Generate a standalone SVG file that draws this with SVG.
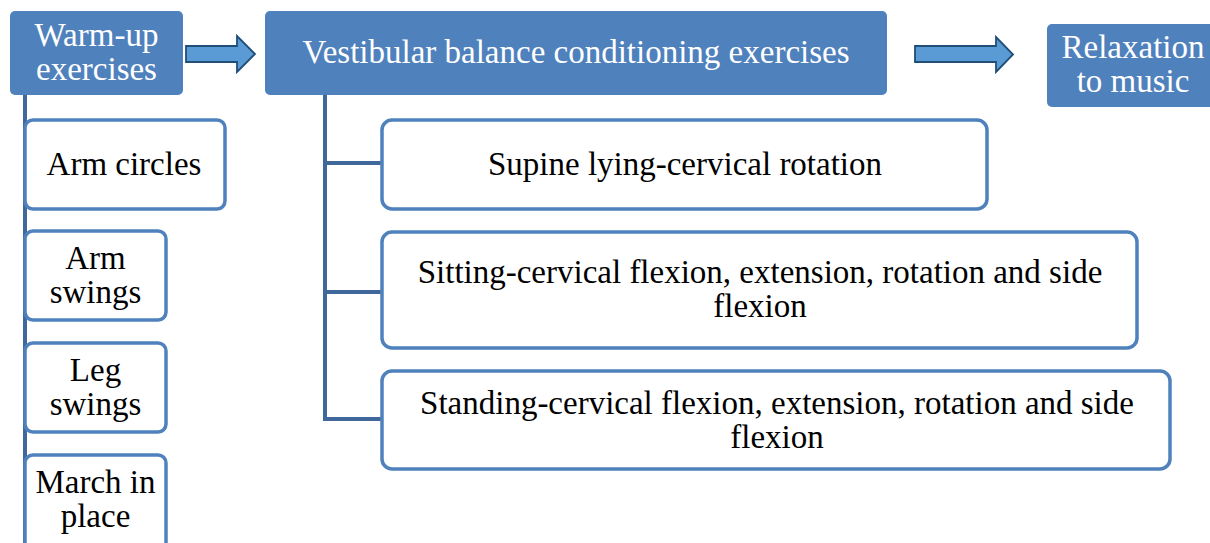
<svg xmlns="http://www.w3.org/2000/svg" width="1210" height="543" viewBox="0 0 1210 543">
<style>
.fill{fill:#4F81BD;}
.box{fill:#fff;stroke:#4F81BD;stroke-width:3.5;}
.t{font-family:"Liberation Serif","Times New Roman",serif;font-size:33px;text-anchor:middle;fill:#000;}
.w{fill:#fff;}
.line{fill:none;stroke:#41689A;stroke-width:4;}
.arr{fill:#5B9BD5;stroke:#1F4E79;stroke-width:1.8;stroke-linejoin:miter;}
</style>
<rect width="1210" height="543" fill="#fff"/>
<g id="connectors">
<path class="line" d="M25 95 V543"/>
<path class="line" d="M325 95 V419 H382 M325 163 H382 M325 292 H382"/>
<path class="arr" d="M186 46 H237 V36 L255 54 L237 72 V62 H186 Z"/>
<path class="arr" d="M915 46 H996 V37 L1013 54.5 L996 72 V62 H915 Z"/>
</g>
<g id="warmup">
<rect class="fill" x="10" y="11" width="173" height="84" rx="5"/>
<text class="t w" x="96.5" y="46">Warm-up</text>
<text class="t w" x="96.5" y="80">exercises</text>
</g>
<g id="vestibular">
<rect class="fill" x="265" y="11" width="622" height="84" rx="5"/>
<text class="t w" x="576" y="63">Vestibular balance conditioning exercises</text>
</g>
<g id="relaxation">
<rect class="fill" x="1047" y="24" width="170" height="83" rx="5"/>
<text class="t w" x="1133" y="58">Relaxation</text>
<text class="t w" x="1133" y="92">to music</text>
</g>
<g id="armcircles">
<rect class="box" x="25" y="120" width="200" height="89" rx="8"/>
<text class="t" x="124" y="175">Arm circles</text>
</g>
<g id="armswings">
<rect class="box" x="25" y="231" width="141" height="89" rx="8"/>
<text class="t" x="95.5" y="269">Arm</text>
<text class="t" x="95.5" y="303">swings</text>
</g>
<g id="legswings">
<rect class="box" x="25" y="343" width="141" height="89" rx="8"/>
<text class="t" x="95.5" y="381">Leg</text>
<text class="t" x="95.5" y="415">swings</text>
</g>
<g id="march">
<rect class="box" x="25" y="455" width="141" height="100" rx="8"/>
<text class="t" x="95.5" y="493">March in</text>
<text class="t" x="95.5" y="527">place</text>
</g>
<g id="supine">
<rect class="box" x="382" y="120" width="605" height="89" rx="10"/>
<text class="t" x="685" y="175">Supine lying-cervical rotation</text>
</g>
<g id="sitting">
<rect class="box" x="382" y="232" width="755" height="116" rx="10"/>
<text class="t" x="760" y="283">Sitting-cervical flexion, extension, rotation and side</text>
<text class="t" x="760" y="317">flexion</text>
</g>
<g id="standing">
<rect class="box" x="382" y="371" width="788" height="98" rx="10"/>
<text class="t" x="777" y="414">Standing-cervical flexion, extension, rotation and side</text>
<text class="t" x="777" y="448">flexion</text>
</g>
</svg>
